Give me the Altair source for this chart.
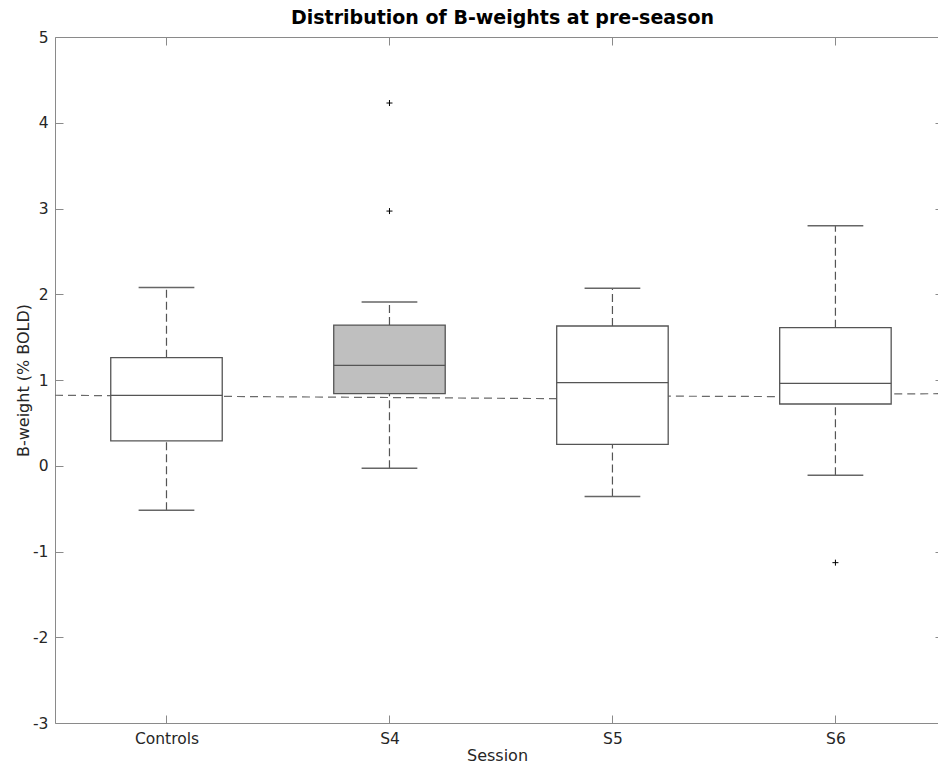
import altair as alt
import pandas as pd

# ---- data ----
groups = ["Controls", "S4", "S5", "S6"]
positions = [1, 2, 3, 4]
whisker_low = [-0.52, -0.03, -0.36, -0.11]
q1 = [0.29, 0.84, 0.25, 0.72]
median = [0.82, 1.17, 0.97, 0.96]
q3 = [1.26, 1.64, 1.63, 1.61]
whisker_high = [2.08, 1.91, 2.07, 2.80]
box_fill = ["white", "#bfbfbf", "white", "white"]

outlier_pos = [2, 2, 4]
outlier_val = [4.23, 2.97, -1.13]

ref_x = [0.5, 3.0, 3.0, 4.0, 4.0, 4.46]
ref_y = [0.822, 0.778, 0.814, 0.804, 0.835, 0.840]

y_ticks = [-3, -2, -1, 0, 1, 2, 3, 4, 5]

boxes = pd.DataFrame({
    "group": groups, "pos": positions, "lo": whisker_low, "q1": q1,
    "med": median, "q3": q3, "hi": whisker_high, "fill": box_fill,
})
outliers = pd.DataFrame({"pos": outlier_pos, "val": outlier_val})
refline = pd.DataFrame({"x": ref_x, "y": ref_y, "order": list(range(len(ref_x)))})

FONT = "DejaVu Sans"
TXT = "#262626"
AX = "#8a8a8a"
BOXC = "#555555"

xs = alt.Scale(domain=[0.5, 4.46], nice=False, zero=False)
ys = alt.Scale(domain=[-3, 5], nice=False, zero=False)

label_expr = "[" + ",".join("'%s'" % g for g in groups) + "][datum.value - 1]"

x_main = alt.Axis(orient="bottom", values=positions, labelExpr=label_expr, tickSize=0,
                  grid=False, domainColor=AX, labelColor=TXT, labelFont=FONT,
                  labelFontSize=15.5, labelPadding=8, labelFlush=False,
                  title="Session", titleFont=FONT, titleFontSize=16, titleFontWeight="normal",
                  titleColor=TXT, titleX=442, titleY=32, titleBaseline="middle",
                  titleAnchor="middle", titleAlign="center")
y_main = alt.Axis(orient="left", values=y_ticks, tickSize=0, grid=False, domainColor=AX,
                  labelColor=TXT, labelFont=FONT, labelFontSize=15.5, labelPadding=7,
                  labelFlush=False, labelExpr="toString(datum.value)",
                  title="B-weight (% BOLD)", titleFont=FONT, titleFontSize=16,
                  titleFontWeight="normal", titleColor=TXT, titleX=-32, titleY=343,
                  titleAngle=270, titleBaseline="middle", titleAlign="center")

x_ticks_bottom = alt.Axis(orient="bottom", values=positions, offset=-8, tickSize=8,
                          labels=False, domain=False, grid=False, tickColor=AX, title=None)
y_ticks_left = alt.Axis(orient="left", values=y_ticks, offset=-8, tickSize=8,
                        labels=False, domain=False, grid=False, tickColor=AX, title=None)
x_top_domain = alt.Axis(orient="top", values=positions, ticks=False, labels=False,
                        domain=True, domainColor=AX, grid=False, title=None)
y_ticks_right = alt.Axis(orient="right", values=[-2, -1, 1, 2, 3, 4], offset=-3, tickSize=3,
                         labels=False, domain=False, grid=False, tickColor=AX, title=None)
x_ticks_top = alt.Axis(orient="top", values=positions, offset=-8, tickSize=8,
                       labels=False, domain=False, grid=False, tickColor=AX, title=None)

line = alt.Chart(refline).mark_line(color="#6a6a6a", strokeDash=[8, 5], strokeWidth=1.2).encode(
    x=alt.X("x:Q", scale=xs, axis=None),
    y=alt.Y("y:Q", scale=ys, axis=None),
    order="order:Q",
)

bb = alt.Chart(boxes).transform_calculate(
    xl="datum.pos - 0.25", xr="datum.pos + 0.25",
    cl="datum.pos - 0.125", cr="datum.pos + 0.125",
)

wh_up = bb.mark_rule(color=BOXC, strokeDash=[8, 4], strokeWidth=1.2).encode(
    x=alt.X("pos:Q", scale=xs, axis=x_ticks_bottom),
    y=alt.Y("q3:Q", scale=ys, axis=y_ticks_left),
    y2="hi:Q",
)
wh_dn = bb.mark_rule(color=BOXC, strokeDash=[8, 4], strokeWidth=1.2).encode(
    x=alt.X("pos:Q", scale=xs, axis=None),
    y=alt.Y("lo:Q", scale=ys, axis=None),
    y2="q1:Q",
)
cap_hi = bb.mark_rule(color="#666666", strokeWidth=1.5).encode(
    x=alt.X("cl:Q", scale=xs, axis=x_top_domain),
    x2="cr:Q",
    y=alt.Y("hi:Q", scale=ys, axis=y_ticks_right),
)
cap_lo = bb.mark_rule(color="#666666", strokeWidth=1.5).encode(
    x=alt.X("cl:Q", scale=xs, axis=None),
    x2="cr:Q",
    y=alt.Y("lo:Q", scale=ys, axis=None),
)
box = bb.mark_rect(stroke=BOXC, strokeWidth=1.3).encode(
    x=alt.X("xl:Q", scale=xs, axis=x_main),
    x2="xr:Q",
    y=alt.Y("q1:Q", scale=ys, axis=y_main),
    y2="q3:Q",
    fill=alt.Fill("fill:N", scale=None),
)
med = bb.mark_rule(color=BOXC, strokeWidth=1.3).encode(
    x=alt.X("xl:Q", scale=xs, axis=x_ticks_top),
    x2="xr:Q",
    y=alt.Y("med:Q", scale=ys, axis=None),
)
outl = alt.Chart(outliers).mark_point(
    shape="M-1,0L1,0M0,-1L0,1", size=36, filled=False, stroke="black", strokeWidth=1, opacity=1
).encode(
    x=alt.X("pos:Q", scale=xs, axis=None),
    y=alt.Y("val:Q", scale=ys, axis=None),
)

chart = alt.layer(line, wh_up, wh_dn, cap_hi, cap_lo, box, med, outl).resolve_axis(
    x="independent", y="independent"
).properties(
    width=883, height=686,
    autosize=alt.AutoSizeParams(type="none"),
    padding={"left": 55, "top": 37, "right": 0, "bottom": 42},
    title=alt.TitleParams("Distribution of B-weights at pre-season", font=FONT, fontSize=19,
                          fontWeight="bold", color="black", anchor="middle", offset=10,
                          dx=6, dy=8),
    background="white",
).configure_view(stroke=None)

chart.save("out.html", embed_options={"renderer": "svg", "actions": False})
